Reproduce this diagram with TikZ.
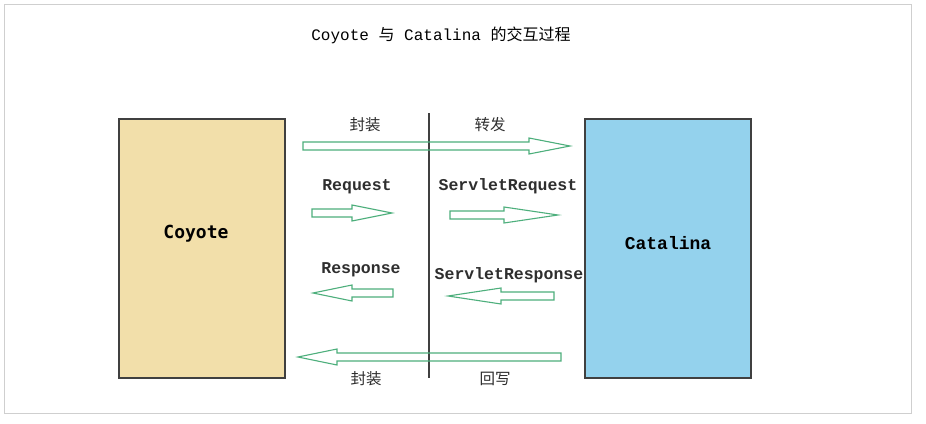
\documentclass[tikz,border=0pt]{standalone}
\usepackage{fontspec}
\setmonofont{Liberation Mono}
\newfontfamily\cjk{Noto Sans CJK SC}
\newfontfamily\coyotefont{DejaVu Sans Mono}
\definecolor{coyotefill}{HTML}{F2DFAA}
\definecolor{catalinafill}{HTML}{94D2ED}
\definecolor{flowgreen}{HTML}{4DAF7C}
\definecolor{boxline}{HTML}{404040}
\definecolor{framegray}{HTML}{CFCFCF}
\definecolor{labelgray}{HTML}{2E2E2E}
% block arrow: shaft end, head base, tip, y
\newcommand{\blockarrow}[4]{%
  \draw[flow] (#1,#4-4) -- (#2,#4-4) -- (#2,#4-8) -- (#3,#4) -- (#2,#4+8) -- (#2,#4+4) -- (#1,#4+4) -- cycle;}

\begin{document}
\begin{tikzpicture}[x=1pt,y=-1pt,
  box/.style={draw=boxline,line width=1.3pt,minimum width=166pt,minimum height=259pt},
  boxtext/.style={font=\fontsize{18}{20}\selectfont\ttfamily\bfseries},
  codelabel/.style={anchor=base,font=\fontsize{16.5}{18}\selectfont\ttfamily\bfseries,text=labelgray},
  cjklabel/.style={font=\fontsize{15.5}{18}\selectfont\cjk,text=labelgray},
  flow/.style={draw=flowgreen,line width=1.1pt,line join=miter},
  divider/.style={draw=boxline,line width=1.2pt}]
\useasboundingbox[fill=white] (0,0) rectangle (926,423);
% \draw[help lines] (0,0) grid (926,423);
\node (frame) [draw=framegray,line width=1pt,minimum width=907pt,minimum height=409pt] at (457.5,208.5) {};
\node (title) at (441,35) {\fontsize{16}{18}\selectfont\ttfamily Coyote {\cjk 与} Catalina {\cjk 的交互过程}};
%
\node (coyote) [box,fill=coyotefill] at (202,248.5) {};
\node (catalina) [box,fill=catalinafill] at (668,248.5) {};
\node (coyotetext) [boxtext] at (196,234) {\coyotefont\bfseries Coyote};
\node (catalinatext) [boxtext] at (668,243) {Catalina};
%
\coordinate (divtop) at (429,113);
\coordinate (divbot) at (429,378);
\draw[divider] (divtop) -- (divbot);
%
\blockarrow{303}{529}{570}{146}
\blockarrow{312}{352}{392}{213}
\blockarrow{450}{504}{558}{215}
\blockarrow{393}{352}{313}{293}
\blockarrow{554}{501}{448}{296}
\blockarrow{561}{337}{298}{357}
%
\node (wrapup) [cjklabel] at (365,125) {封装};
\node (forward) [cjklabel] at (490,125) {转发};
\node (req) [codelabel] at (357,190) {Request};
\node (sreq) [codelabel] at (508,190) {ServletRequest};
\node (resp) [codelabel] at (361,273) {Response};
\node (sresp) [codelabel] at (509,279) {ServletResponse};
\node (wrapdown) [cjklabel] at (366,379) {封装};
\node (writeback) [cjklabel] at (495,379) {回写};
\end{tikzpicture}
\end{document}
